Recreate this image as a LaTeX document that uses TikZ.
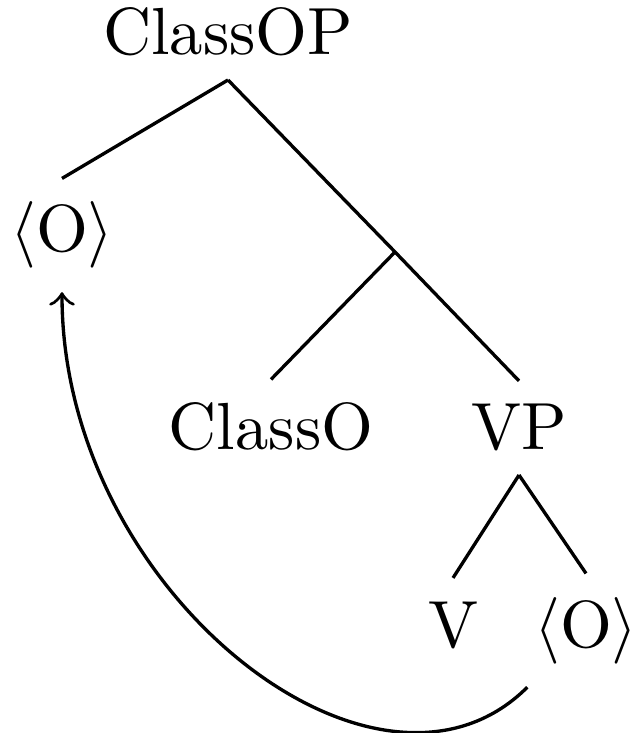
\documentclass[tikz,border=0pt]{standalone}
\usetikzlibrary{positioning}

\tikzset{
  cat/.style={anchor=base},
  branch/.style={line width=0.5pt},
  move/.style={line width=0.5pt,->}
}

\begin{document}
\begin{tikzpicture}[x=0.15pt,y=-0.15pt]
\useasboundingbox (0,0) rectangle (634,733);

\node[cat] (classop) at (228,55) {ClassOP};
\node[cat] (olow) at (62,252) {$\langle\mathrm{O}\rangle$};
\coordinate (bar) at (395,252);
\node[cat] (classo) at (271,450) {ClassO};
\node[cat] (vp) at (519,450) {VP};
\node[cat] (v) at (453,647) {V};
\node[cat] (ohigh) at (586,647) {$\langle\mathrm{O}\rangle$};

\draw[branch] (classop.south) -- (olow.north);
\draw[branch] (classop.south) -- (bar) -- (vp.north);
\draw[branch] (bar) -- (classo.north);
\draw[branch] (vp.south) -- (v.north);
\draw[branch] (vp.south) -- (ohigh.north);

% movement of the object
\draw[move] ([xshift=2.5pt]ohigh.south west) .. controls +(-150,150) and +(0,300) .. (olow.south);
\end{tikzpicture}
\end{document}
